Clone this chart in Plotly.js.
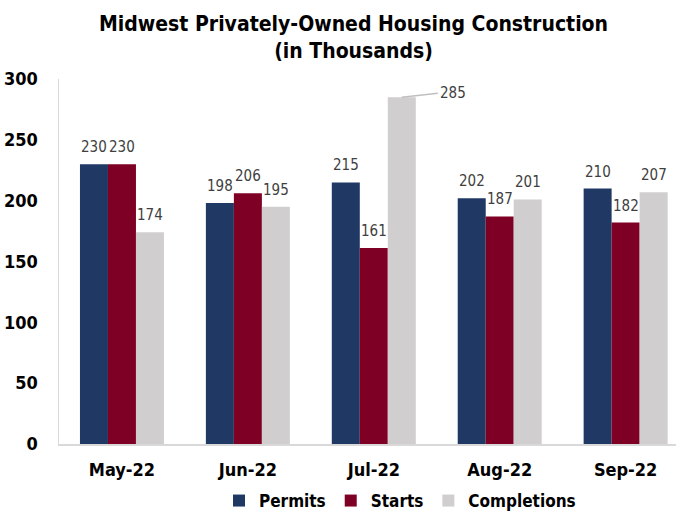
<!DOCTYPE html>
<html><head><meta charset="utf-8">
<script src="https://cdn.plot.ly/plotly-3.0.1.min.js"></script>
<style>html,body{margin:0;padding:0;background:#fff}#chart{width:676px;height:512px}</style>
</head><body><div id="chart"></div>
<script>
const months = ["May-22", "Jun-22", "Jul-22", "Aug-22", "Sep-22"];
const permits = [230, 198, 215, 202, 210];
const starts = [230, 206, 161, 187, 182];
const completions = [174, 195, 285, 201, 207];
const seriesNames = ["Permits", "Starts", "Completions"];
const seriesColors = ["#1F3864", "#7F0025", "#D0CECE"];

const FONT = "'Liberation Sans Narrow', 'Arial Narrow', 'DejaVu Sans Condensed', 'Liberation Sans', sans-serif";
const allSeries = [permits, starts, completions];
const traces = allSeries.map((vals, i) => ({
  type: 'bar', x: months, y: vals, name: seriesNames[i],
  marker: {color: seriesColors[i]}, hoverinfo: 'skip'
}));

const bw = (1 - 0.333) / 3;
const annotations = [];
allSeries.forEach((vals, s) => {
  vals.forEach((v, k) => {
    const xpos = k + (s - 1) * bw;
    if (v > 280) {
      annotations.push({x: xpos, y: v, xref: 'x', yref: 'y', text: String(v),
        showarrow: true, arrowhead: 0, arrowwidth: 1.5, arrowcolor: '#BFBFBF',
        ax: 36, ay: -4, xanchor: 'left', yanchor: 'middle', standoff: 0,
        font: {family: FONT, size: 15, color: '#404040'}});
    } else {
      annotations.push({x: xpos, y: v, xref: 'x', yref: 'y', text: String(v),
        showarrow: false, yanchor: 'bottom', yshift: 6,
        font: {family: FONT, size: 15, color: '#404040'}});
    }
  });
});

const layout = {
  width: 676, height: 512,
  margin: {l: 59, r: 0, t: 79, b: 68},
  paper_bgcolor: '#fff', plot_bgcolor: '#fff',
  barmode: 'group', bargap: 0.333, bargroupgap: 0,
  title: {text: '<b>Midwest Privately-Owned Housing Construction<br>(in Thousands)</b>',
    font: {family: FONT, size: 21, color: '#000'}, x: 0.523, xanchor: 'center',
    yref: 'container', y: 1 - 31 / 512, yanchor: 'middle'},
  xaxis: {type: 'category', range: [-0.5, 4.4], showline: true, linecolor: '#D9D9D9', linewidth: 1.5,
    ticks: '', ticklabelstandoff: 9, automargin: false,
    tickfont: {family: FONT, size: 18, color: '#000', weight: 'bold'}, fixedrange: true},
  yaxis: {range: [0, 300], dtick: 50, showgrid: false, zeroline: false, showline: true,
    linecolor: '#D9D9D9', linewidth: 1.5, ticks: '', ticklabelstandoff: 16, automargin: false,
    tickfont: {family: FONT, size: 18, color: '#000', weight: 'bold'}},
  showlegend: true,
  legend: {orientation: 'h', xref: 'container', x: 400 / 676, xanchor: 'center',
    yref: 'container', y: 11 / 512, yanchor: 'middle',
    font: {family: FONT, size: 17, color: '#000', weight: 'bold'}, itemwidth: 30, traceorder: 'normal'},
  annotations: annotations
};
Plotly.newPlot('chart', traces, layout, {displayModeBar: false, staticPlot: true});
</script></body></html>
